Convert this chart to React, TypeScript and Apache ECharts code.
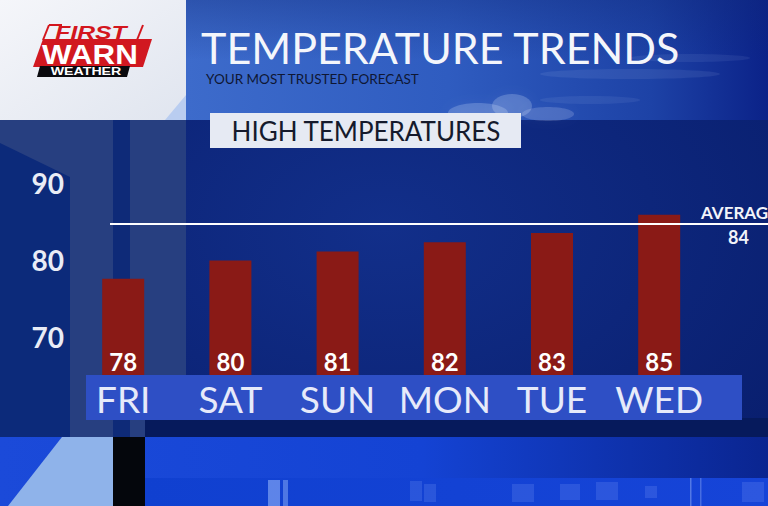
import React, { useEffect, useRef } from "react";
import * as echarts from "echarts";

const days = ["FRI", "SAT", "SUN", "MON", "TUE", "WED"];
const highs = [78, 80, 81, 82, 83, 85];
const averageHigh = 84;
const yTickLabels = [70, 80, 90];
const titleText = "TEMPERATURE TRENDS";
const subtitleText = "YOUR MOST TRUSTED FORECAST";
const panelText = "HIGH TEMPERATURES";
const averageLabel = "AVERAGE";

const W = 768;
const H = 506;
const FONT = "Lato, 'Open Sans', sans-serif";
const LOGO_FONT = "'Liberation Sans', Arial, sans-serif";

function txt(x: number, y: number, text: string, opts: any, z = 6) {
  return {
    type: "text",
    x,
    y,
    z,
    silent: true,
    style: {
      text,
      fill: opts.fill,
      fontSize: opts.fontSize,
      fontWeight: opts.fontWeight || "normal",
      fontStyle: opts.fontStyle || "normal",
      fontFamily: opts.fontFamily || FONT,
      align: opts.align || "left",
      verticalAlign: opts.verticalAlign || "middle",
      textAlign: opts.align || "left",
      textVerticalAlign: opts.verticalAlign || "middle",
    },
  };
}

function scaledText(x: number, y: number, sx: number, text: string, opts: any, z = 6) {
  return {
    type: "group",
    x,
    y,
    scaleX: sx,
    z,
    children: [txt(0, 0, text, { ...opts, align: "center" }, z)],
  };
}

function background(): any[] {
  const els: any[] = [];
  const rect = (x: number, y: number, w: number, h: number, fill: any, z = -2) =>
    els.push({ type: "rect", z, silent: true, shape: { x, y, width: w, height: h }, style: { fill } });
  const poly = (pts: number[][], fill: any, z = -2) =>
    els.push({ type: "polygon", z, silent: true, shape: { points: pts }, style: { fill } });
  const ell = (cx: number, cy: number, rx: number, ry: number, fill: string, blur = 0, z = -2) =>
    els.push({ type: "ellipse", z, silent: true, shape: { cx, cy, rx, ry }, style: { fill, shadowBlur: blur, shadowColor: fill } });

  // main navy
  rect(0, 0, W, H, new echarts.graphic.RadialGradient(0.5, 0.45, 0.7, [
    { offset: 0, color: "#122f8a" },
    { offset: 1, color: "#081d6c" },
  ]));
  // header left white
  rect(0, 0, 186, 120, new echarts.graphic.LinearGradient(0, 0, 1, 1, [
    { offset: 0, color: "#f5f6fa" },
    { offset: 1, color: "#e0e5ef" },
  ]));
  poly([[165, 120], [186, 95], [186, 120]], "#b9cdf0");
  // sky
  rect(186, 0, 582, 120, new echarts.graphic.LinearGradient(0, 0, 1, 0, [
    { offset: 0, color: "#3d6bcb" },
    { offset: 0.45, color: "#2f5cc0" },
    { offset: 0.8, color: "#1d42a6" },
    { offset: 1, color: "#0b2288" },
  ]));
  rect(186, 0, 582, 60, new echarts.graphic.LinearGradient(0, 0, 0, 1, [
    { offset: 0, color: "rgba(15,40,120,0.35)" },
    { offset: 1, color: "rgba(15,40,120,0)" },
  ]));
  // clouds (soft)
  ell(478, 113, 30, 10, "rgba(225,235,255,0.22)", 12);
  ell(512, 106, 20, 12, "rgba(225,235,255,0.22)", 12);
  ell(548, 114, 26, 7, "rgba(225,235,255,0.18)", 12);
  ell(630, 74, 90, 5, "rgba(215,228,255,0.08)", 10);
  ell(690, 58, 60, 4, "rgba(215,228,255,0.07)", 10);
  ell(590, 100, 50, 4, "rgba(215,228,255,0.07)", 10);
  // left panels
  rect(0, 120, 186, 317, "#273f80");
  poly([[0, 143], [70, 177], [70, 437], [0, 437]], "#0c2a7a");
  rect(113, 120, 17, 317, "#0e2a78");
  // dark band under labels
  rect(145, 418, W - 145, 20, "#061a5c");
  // bottom blue
  rect(0, 437, W, 69, new echarts.graphic.LinearGradient(0, 0, 1, 0, [
    { offset: 0, color: "#1b4ad9" },
    { offset: 0.55, color: "#1443d4" },
    { offset: 1, color: "#0a2590" },
  ]));
  rect(145, 478, W - 145, 28, new echarts.graphic.LinearGradient(0, 0, 1, 0, [
    { offset: 0, color: "#1040d0" },
    { offset: 1, color: "#1644d8" },
  ]));
  poly([[8, 506], [62, 437], [113, 437], [113, 506]], "#8fb3ea");
  rect(113, 437, 32, 69, "#04060c");
  // faint squares
  const sq = "rgba(150,180,255,0.18)";
  rect(410, 481, 12, 20, sq);
  rect(424, 484, 12, 18, sq);
  rect(512, 484, 22, 18, sq);
  rect(560, 484, 20, 16, sq);
  rect(596, 482, 22, 18, sq);
  rect(645, 486, 12, 12, sq);
  rect(690, 478, 1.5, 28, "rgba(200,220,255,0.35)");
  rect(700, 478, 1.5, 28, "rgba(200,220,255,0.28)");
  rect(742, 482, 22, 20, sq);
  rect(268, 480, 12, 26, "rgba(170,200,255,0.5)");
  rect(283, 480, 5, 26, "rgba(170,200,255,0.4)");
  return els;
}

function logo(): any[] {
  const els: any[] = [];
  els.push({ type: "line", z: 5, silent: true, shape: { x1: 49, y1: 25, x2: 43, y2: 40 }, style: { stroke: "#d3161d", lineWidth: 2 } });
  els.push({ type: "line", z: 5, silent: true, shape: { x1: 49, y1: 25, x2: 62, y2: 25 }, style: { stroke: "#d3161d", lineWidth: 2 } });
  els.push({ type: "line", z: 5, silent: true, shape: { x1: 143, y1: 25, x2: 137, y2: 40 }, style: { stroke: "#d3161d", lineWidth: 2 } });
  els.push({ type: "polygon", z: 5, silent: true, shape: { points: [[43, 39], [152, 39], [143, 67], [33, 67]] }, style: { fill: "#d11820" } });
  els.push({ type: "polygon", z: 5, silent: true, shape: { points: [[40, 66], [130, 66], [127, 77], [37, 77]] }, style: { fill: "#0a0a0e" } });
  els.push(scaledText(91, 33, 1.3, "FIRST", { fill: "#d3161d", fontSize: 19, fontWeight: "bold", fontStyle: "italic", fontFamily: LOGO_FONT }));
  els.push(scaledText(90, 54, 1.12, "WARN", { fill: "#ffffff", fontSize: 28, fontWeight: "bold", fontFamily: LOGO_FONT }));
  els.push(scaledText(86, 72, 1.35, "WEATHER", { fill: "#ffffff", fontSize: 10.5, fontWeight: "bold", fontFamily: LOGO_FONT }));
  return els;
}

function buildOption(avgY: number | null): any {
  const graphics: any[] = [
    ...background(),
    ...logo(),
    txt(201, 47, titleText, { fill: "#f4f6fb", fontSize: 43 }),
    txt(206, 79, subtitleText, { fill: "#0f1733", fontSize: 13.5 }),
    { type: "rect", z: 1, silent: true, shape: { x: 210, y: 113, width: 311, height: 35 }, style: { fill: "#e6eaf3" } },
    txt(366, 131, panelText, { fill: "#151a2c", fontSize: 26, align: "center" }),
    { type: "rect", z: 3, silent: true, shape: { x: 86, y: 375, width: 656, height: 45 }, style: { fill: "#2e4fc5" } },
  ];
  if (avgY !== null) {
    graphics.push({ type: "line", z: 4, silent: true, shape: { x1: 110, y1: avgY, x2: W, y2: avgY }, style: { stroke: "#ffffff", lineWidth: 2 } });
    graphics.push(txt(701, avgY - 11.5, averageLabel, { fill: "#f2f4fa", fontSize: 17, fontWeight: "bold" }));
    graphics.push(txt(738.5, avgY + 13.5, String(averageHigh), { fill: "#f2f4fa", fontSize: 18, fontWeight: "bold", align: "center" }));
  }
  return {
    animation: false,
    backgroundColor: "transparent",
    grid: { left: 69.6, right: 55.2, top: 169, bottom: 117.3, containLabel: false },
    xAxis: {
      type: "category",
      data: days,
      z: 5,
      axisLine: { show: false },
      axisTick: { show: false },
      axisLabel: { interval: 0, color: "#e6eafa", fontFamily: FONT, fontSize: 37, margin: -9 },
    },
    yAxis: [
      { type: "value", min: 66, max: 90, show: false },
      {
        type: "value",
        min: 63.3,
        max: 91.75,
        position: "left",
        axisLine: { show: false },
        axisTick: { show: false },
        splitLine: { show: false },
        axisLabel: {
          customValues: yTickLabels,
          color: "#e9ecf6",
          fontFamily: FONT,
          fontWeight: "bold",
          fontSize: 28,
          margin: 5.6,
        },
      },
    ],
    series: [
      {
        type: "bar",
        yAxisIndex: 0,
        data: highs,
        barWidth: 42,
        z: 2,
        itemStyle: { color: "#8a1a16" },
        label: {
          show: true,
          position: "insideBottom",
          distance: 15,
          color: "#ffffff",
          fontFamily: FONT,
          fontWeight: "bold",
          fontSize: 24,
        },
      },
    ],
    graphic: { elements: graphics },
  };
}

export default function App() {
  const ref = useRef<HTMLDivElement>(null);
  useEffect(() => {
    document.body.style.margin = "0";
    const chart = echarts.init(ref.current!, null, { renderer: "svg", width: W, height: H });
    chart.setOption(buildOption(null));
    const avgY = chart.convertToPixel({ yAxisIndex: 0 }, averageHigh) as number;
    chart.setOption(buildOption(avgY), true);
    return () => chart.dispose();
  }, []);
  return <div ref={ref} style={{ position: "absolute", left: 0, top: 0, width: W, height: H }} />;
}
